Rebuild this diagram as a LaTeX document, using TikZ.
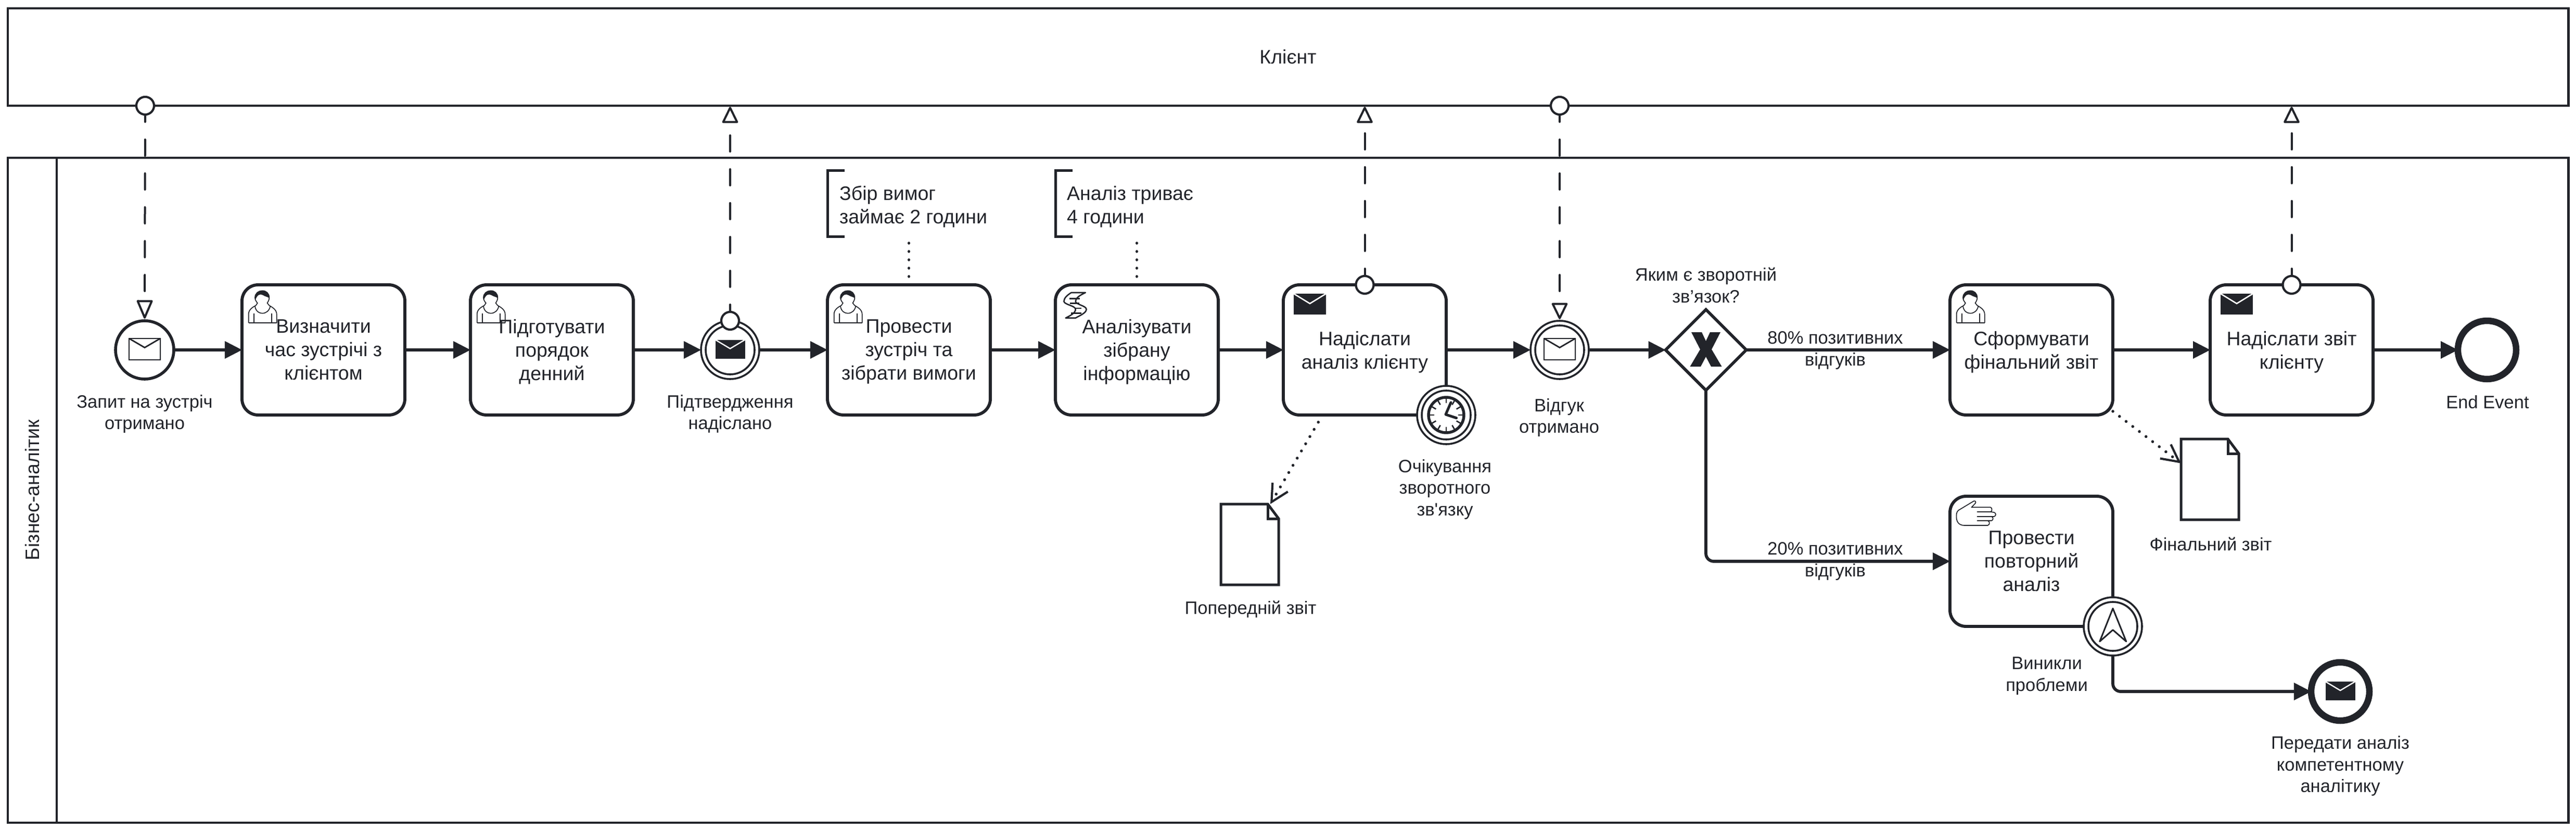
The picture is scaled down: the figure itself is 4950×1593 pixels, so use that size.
\documentclass[tikz,border=0pt]{standalone}
\usepackage{fontspec}
\setmainfont{Liberation Sans}[Ligatures=TeXOff]
\usetikzlibrary{arrows.meta,shapes.geometric}
\definecolor{ink}{RGB}{34,36,42}
\newcommand\fnttask{\fontsize{37.5}{45}\selectfont}
\newcommand\fntlbl{\fontsize{34.5}{41.5}\selectfont}
\newcommand\usericon[2]{%
  \begin{scope}[shift={(#1-285,#2-27)},scale=1/3,line width=1.7pt,line join=round]
    \draw (893,300) -- (893,250) .. controls (893,225) and (915,210) .. (935,200) -- (945,185);
    \draw (1055,300) -- (1055,250) .. controls (1055,225) and (1030,210) .. (1012,200) -- (1000,185);
    \draw (893,300) -- (1055,300);
    \draw (930,205) .. controls (935,235) and (955,245) .. (972,245) .. controls (995,245) and (1012,230) .. (1018,205);
    \draw (923,245) -- (923,300);
    \draw (1025,245) -- (1025,300);
    \draw (945,187) .. controls (935,175) and (930,165) .. (930,155) .. controls (930,130) and (950,115) .. (972,115) .. controls (995,115) and (1012,130) .. (1012,155) .. controls (1012,165) and (1008,175) .. (1000,187);
    \fill (930,160) .. controls (930,130) and (950,115) .. (972,115) .. controls (995,115) and (1012,130) .. (1012,158) .. controls (1005,150) and (990,150) .. (975,140) .. controls (960,132) and (945,135) .. (932,168) -- cycle;
  \end{scope}}
\newcommand\mailfull[2]{%
  \fill (#1-31,#2-20) rectangle (#1+31,#2+20);
  \draw[white,line width=2.6pt] (#1-31,#2-20) -- (#1,#2-1) -- (#1+31,#2-20);}
\newcommand\mailsmall[2]{%
  \fill (#1-28.5,#2-18) rectangle (#1+28.5,#2+18);
  \draw[white,line width=2.4pt] (#1-28.5,#2-18) -- (#1,#2-1) -- (#1+28.5,#2-18);}
\newcommand\mailopen[2]{%
  \draw[line width=2.8pt] (#1-30,#2-20.5) rectangle (#1+30,#2+20.5);
  \draw[line width=2.8pt] (#1-30,#2-20.5) -- (#1,#2-3) -- (#1+30,#2-20.5);}
\newcommand\dataobj[3]{%
  \begin{scope}[shift={(#2,#3)},line width=5pt,line join=miter]
    \draw (0,0) -- (90,0) -- (111,28) -- (111,155) -- (0,155) -- cycle;
    \draw (90,0) -- (90,28) -- (111,28);
  \end{scope}
  \node[minimum width=111pt,minimum height=155pt,inner sep=0pt,outer sep=0pt] (#1) at (#2+55.5,#3+77.5) {};}
\tikzset{
  taskbox/.style={draw,fill=white,rounded corners=31pt,line width=5.9pt,minimum width=313pt,minimum height=250pt,inner sep=0pt,outer sep=0pt,align=center,font=\fnttask,text depth=0pt},
  evbase/.style={draw,fill=white,circle,minimum size=112pt,inner sep=0pt,outer sep=0pt},
  evstart/.style={evbase,line width=5.6pt},
  evmid/.style={evbase,line width=3.6pt},
  evend/.style={evbase,line width=12.5pt},
  ringline/.style={line width=3.6pt},
  gate/.style={draw,fill=white,diamond,aspect=1,line width=5.7pt,minimum width=155pt,minimum height=155pt,inner sep=0pt,outer sep=0pt},
  msgdot/.style={draw,fill=white,circle,minimum size=34pt,inner sep=0pt,outer sep=0pt,line width=4.2pt},
  lbl/.style={align=center,font=\fntlbl,inner sep=0pt,yshift=-3pt},
  anno/.style={align=left,font=\fnttask,anchor=west,inner sep=0pt,yshift=-2pt},
  lanebox/.style={draw,line width=4.9pt},
  seq/.style={line width=5.8pt,-{Triangle[length=33pt,width=34pt,line width=0pt]}},
  msg/.style={line width=4pt,line cap=round,dash pattern=on 31pt off 34pt,-{Triangle[length=34pt,width=32pt,line width=4pt,fill=white,round]}},
  msglong/.style={msg,-{Triangle[length=39pt,width=32pt,line width=4pt,fill=white,round]}},
  dots/.style={line width=5.6pt,line cap=round,dash pattern=on 0.01pt off 16pt},
  assoc/.style={dots,-{Straight Barb[length=33pt,width=34pt,line width=4.2pt]}},
}
\begin{document}
\begin{tikzpicture}[x=1pt,y=-1pt,color=ink]
\useasboundingbox (0,0) rectangle (4950,1593);
% pools
\node[lanebox,minimum width=4920pt,minimum height=187pt,inner sep=0pt,outer sep=0pt,anchor=north west,font=\fnttask] (client) at (15,16) {Клієнт};
\node[lanebox,minimum width=4920pt,minimum height=1277pt,inner sep=0pt,outer sep=0pt,anchor=north west] (pool) at (15,303) {};
\node[lanebox,minimum width=94pt,minimum height=1277pt,inner sep=0pt,outer sep=0pt,anchor=north west] (lanehead) at (15,303) {};
\node[rotate=90,font=\fnttask,inner sep=0pt] (lanelabel) at (62,941) {Бізнес-аналітик};
% tasks
\node[taskbox] (t1) at (621.5,672) {Визначити\\час зустрічі з\\клієнтом};
\node[taskbox] (t2) at (1060.5,672) {Підготувати\\порядок\\денний};
\node[taskbox] (t3) at (1746.5,672) {Провести\\зустріч та\\зібрати вимоги};
\node[taskbox] (t4) at (2184.5,672) {Аналізувати\\зібрану\\інформацію};
\node[taskbox] (t5) at (2622.5,672) {Надіслати\\аналіз клієнту};
\node[taskbox] (t7) at (3903.5,672) {Сформувати\\фінальний звіт};
\node[taskbox] (t8) at (4403.5,672) {Надіслати звіт\\клієнту};
\node[taskbox] (t9) at (3903.5,1078) {Провести\\повторний\\аналіз};
% events
\node[evstart] (ev1) at (278,672) {};
\node[evmid] (ev2) at (1403,672) {};
\draw[ringline] (ev2) circle[radius=47];
\node[evmid] (ev3) at (2997,672) {};
\draw[ringline] (ev3) circle[radius=47];
\node[evend] (endev) at (4779,672) {};
\node[evend] (endmsg) at (4497,1328) {};
\node[gate] (gw) at (3278,672) {};
\fill (3278-28,671-33) -- (3278-8,671-33) -- (3278,671-16) -- (3278+8,671-33) -- (3278+28,671-33) -- (3278+11,671) -- (3278+30.5,671+33) -- (3278+10,671+33) -- (3278,671+14) -- (3278-10,671+33) -- (3278-30.5,671+33) -- (3278-11,671) -- cycle;
\mailopen{278}{670.5}
\mailsmall{1403}{670.5}
\mailopen{2997}{670.5}
\mailsmall{4497}{1327}
% boundary events
\node[evmid] (bt1) at (t5.south east) {};
\draw[ringline] (bt1) circle[radius=47];
\draw[line width=5.4pt] (bt1) circle[radius=34];
\begin{scope}[shift={(bt1)}]
  \foreach \a in {0,30,...,330} \draw[line width=2.6pt] (\a:22.7) -- (\a:31.7);
  \draw[line width=5pt,line cap=round,line join=round] (9,-24) -- (-1,-1) -- (19.5,5.7);
\end{scope}
\node[evmid] (bt2) at (t9.south east) {};
\draw[ringline] (bt2) circle[radius=47];
\begin{scope}[shift={(bt2)}]
  \draw[line width=3pt,line join=round] (0,-34.5) -- (25.7,29) -- (0,6.7) -- (-25.3,29) -- cycle;
\end{scope}
% task markers
\usericon{465}{547}
\usericon{904}{547}
\usericon{1590}{547}
\usericon{3747}{547}
\begin{scope}[shift={(2028,547)},line width=2.6pt,line join=round]
  \draw (30.5,15) -- (57.8,15) .. controls (47,20) and (39,25) .. (38.7,31.6) .. controls (38.7,38) and (59.5,40) .. (59.5,47) .. controls (59.5,54) and (47,59) .. (38.7,63.7) -- (19.7,63.7) .. controls (29,59) and (38.7,54) .. (38.7,47) .. controls (38.7,40) and (16.4,38) .. (16.4,31.6) .. controls (16.4,25) and (24,19) .. (30.5,15) -- cycle;
  \draw (27,26.5) -- (47,26.5) (28,35.7) -- (46,35.7) (37,44.8) -- (50,44.8) (30,54.5) -- (50,54.5);
\end{scope}
\mailfull{2517}{584}
\mailfull{4298}{584}
\begin{scope}[shift={(3730,930)},scale=1/3,line width=1.7pt,line join=round]
  \draw (100,150) -- (188,97) .. controls (197,93) and (203,103) .. (197,110) -- (175,133) -- (285,133) .. controls (295,135) and (295,157) .. (285,159) -- (305,162) .. controls (318,165) and (318,183) .. (305,186) -- (290,186) .. controls (302,188) and (302,208) .. (290,210) -- (268,210) .. controls (282,212) and (282,235) .. (268,237) -- (135,237) .. controls (100,237) and (88,215) .. (88,185) .. controls (88,170) and (90,158) .. (100,150) -- cycle;
  \draw[line width=2.4pt] (208,159) -- (285,159) (208,186) -- (305,186) (208,210) -- (290,210);
\end{scope}
% data objects
\dataobj{d1}{2346}{968}
\dataobj{d2}{4191}{843}
% annotations
\coordinate (a1end) at (1746.5,454);
\coordinate (a2end) at (2184.5,454);
\draw[line width=5pt,line join=miter] (1623,327) -- (1590,327) -- (1590,454.5) -- (1623,454.5);
\draw[line width=5pt,line join=miter] (2061,327) -- (2028,327) -- (2028,454.5) -- (2061,454.5);
\node[anno] (a1) at (1613,395) {Збір вимог\\займає 2 години};
\node[anno] (a2) at (2050,395) {Аналіз триває\\4 години};
% sequence flows
\draw[seq] (ev1) -- (t1);
\draw[seq] (t1) -- (t2);
\draw[seq] (t2) -- (ev2);
\draw[seq] (ev2) -- (t3);
\draw[seq] (t3) -- (t4);
\draw[seq] (t4) -- (t5);
\draw[seq] (t5) -- (ev3);
\draw[seq] (ev3) -- (gw);
\draw[seq] (gw) -- (t7);
\draw[seq] (t7) -- (t8);
\draw[seq] (t8) -- (endev);
\draw[seq,rounded corners=15pt] (gw.south) |- (t9.west);
\draw[seq,rounded corners=15pt] (bt2.south) |- (endmsg.west);
% associations
\draw[dots] (t3.north) -- (a1end);
\draw[dots] (t4.north) -- (a2end);
\draw[assoc] (t5.237) -- (d1.63.3);
\draw[assoc] (t7.-37) -- (d2.151);
% message flows
\coordinate (cl2) at (1403,205);
\coordinate (cl3) at (2622.5,205);
\coordinate (cl5) at (4403.5,205);
\node[msgdot] (c1) at (279,203) {};
\node[msgdot] (c4) at (2997,203) {};
\node[msgdot] (m2) at (ev2.north) {};
\node[msgdot] (m3) at (t5.north) {};
\node[msgdot] (m5) at (t8.north) {};
\draw[msglong,dash phase=17pt,shorten >=4pt] (c1) -- (ev1.north);
\draw[msg,dash phase=17pt] (m2) -- (cl2);
\draw[msg,dash phase=17pt] (m3) -- (cl3);
\draw[msg,dash phase=17pt,shorten >=3pt] (c4) -- (ev3.north);
\draw[msg,dash phase=17pt] (m5) -- (cl5);
% labels
\node[lbl] (l1) at (278,792) {Запит на зустріч\\отримано};
\node[lbl] (l2) at (1403,792) {Підтвердження\\надіслано};
\node[lbl] (l3) at (2776.5,937) {Очікування\\зворотного\\зв'язку};
\node[lbl] (l4) at (2996,799) {Відгук\\отримано};
\node[lbl] (l5) at (3278,545) {Яким є зворотній\\зв’язок?};
\node[lbl] (l6) at (3526.5,670) {80\% позитивних\\відгуків};
\node[lbl] (l7) at (3526.5,1075) {20\% позитивних\\відгуків};
\node[lbl] (l8) at (2403,1167) {Попередній звіт};
\node[lbl] (l9) at (4248,1042) {Фінальний звіт};
\node[lbl] (l10) at (3933,1295) {Виникли\\проблеми};
\node[lbl] (l11) at (4497,1468.5) {Передати аналіз\\компетентному\\аналітику};
\node[lbl] (l12) at (4780,769) {End Event};
\end{tikzpicture}
\end{document}
